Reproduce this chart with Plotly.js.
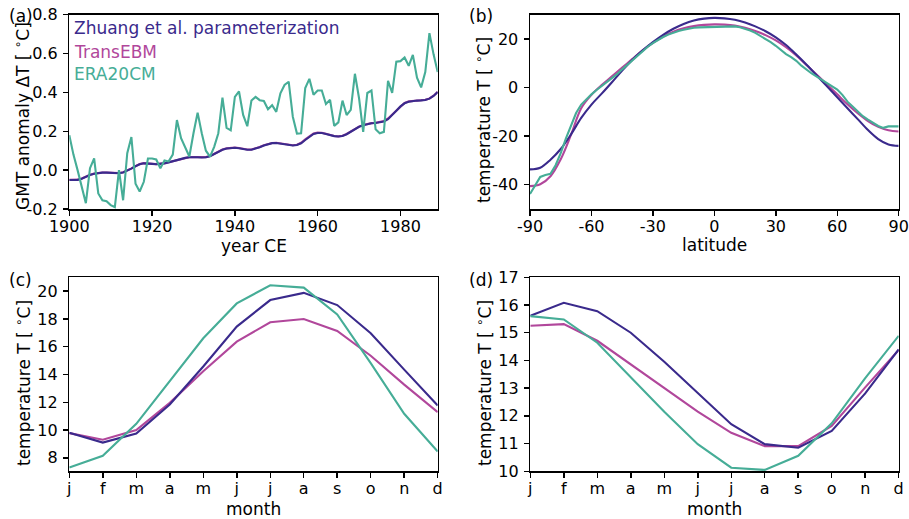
<!DOCTYPE html>
<html>
<head>
<meta charset="utf-8">
<script src="https://cdn.plot.ly/plotly-3.0.1.min.js"></script>
<style>html,body{margin:0;padding:0;background:#fff;}#chart{width:909px;height:519px;}</style>
</head>
<body>
<div id="chart"></div>
<script>
// ---------- data ----------
const seriesNames = ['Zhuang et al. parameterization', 'TransEBM', 'ERA20CM'];
const seriesColors = ['#3a2a8c', '#b1479b', '#46ad97'];

// (a) global mean temperature anomaly, 1900-1989
const years = Array.from({length: 90}, (_, i) => 1900 + i);
const gmtZhuang = [
 -0.051,-0.052,-0.050,-0.044,-0.034,-0.025,-0.019,-0.015,-0.013,-0.013,
 -0.014,-0.016,-0.016,-0.012,-0.004,0.008,0.020,0.030,0.035,0.035,
 0.032,0.030,0.031,0.035,0.040,0.046,0.052,0.058,0.063,0.066,
 0.067,0.066,0.065,0.066,0.072,0.084,0.096,0.105,0.111,0.114,
 0.115,0.113,0.109,0.105,0.105,0.110,0.118,0.127,0.134,0.139,
 0.140,0.137,0.133,0.129,0.127,0.129,0.138,0.155,0.173,0.186,
 0.191,0.191,0.186,0.180,0.175,0.173,0.176,0.185,0.198,0.212,
 0.223,0.231,0.237,0.241,0.243,0.245,0.250,0.262,0.282,0.306,
 0.328,0.344,0.352,0.356,0.358,0.359,0.361,0.368,0.382,0.402];
const gmtTransEBM = [
 -0.050,-0.051,-0.049,-0.043,-0.033,-0.024,-0.018,-0.014,-0.012,-0.012,
 -0.013,-0.015,-0.015,-0.011,-0.003,0.009,0.021,0.031,0.036,0.036,
 0.033,0.031,0.032,0.036,0.041,0.047,0.053,0.059,0.064,0.067,
 0.068,0.067,0.066,0.067,0.073,0.085,0.097,0.106,0.112,0.115,
 0.116,0.114,0.110,0.106,0.106,0.111,0.119,0.128,0.135,0.140,
 0.141,0.138,0.134,0.130,0.128,0.131,0.141,0.158,0.176,0.189,
 0.193,0.192,0.187,0.181,0.176,0.174,0.177,0.186,0.199,0.213,
 0.224,0.232,0.238,0.242,0.244,0.247,0.253,0.266,0.286,0.310,
 0.331,0.346,0.354,0.357,0.359,0.360,0.362,0.369,0.383,0.403];
const gmtERA20CM = [
 0.18,0.08,0.00,-0.09,-0.17,0.01,0.06,-0.12,-0.155,-0.16,
 -0.18,-0.19,0.00,-0.155,0.087,0.17,-0.07,-0.11,-0.06,0.06,
 0.06,0.055,0.01,0.05,0.045,0.08,0.258,0.164,0.12,0.07,
 0.19,0.296,0.19,0.10,0.07,0.12,0.19,0.373,0.218,0.205,
 0.377,0.405,0.284,0.226,0.358,0.377,0.36,0.356,0.313,0.334,
 0.30,0.395,0.438,0.455,0.275,0.188,0.19,0.423,0.47,0.388,
 0.41,0.41,0.34,0.362,0.228,0.246,0.358,0.284,0.31,0.496,
 0.37,0.197,0.397,0.41,0.21,0.19,0.197,0.46,0.398,0.558,
 0.561,0.58,0.537,0.593,0.476,0.426,0.505,0.705,0.596,0.505];

// (b) zonal mean temperature vs latitude
const latSmooth = [-90,-85,-80,-75,-70,-65,-60,-55,-50,-45,-40,-35,-30,-25,-20,-15,-10,-5,0,
                   5,10,15,20,25,30,35,40,45,50,55,60,65,70,75,80,85,90];
const latZhuang = [-33.7,-33.0,-29.7,-25.3,-19.3,-12.5,-7.0,-2.5,2.2,7.0,11.5,15.3,18.7,21.7,24.2,26.2,27.6,28.4,28.7,
                   28.5,27.9,26.8,25.2,23.2,20.7,17.5,13.6,9.4,5.0,0.5,-4.0,-8.5,-13.0,-17.5,-21.2,-23.4,-24.0];
const latTransEBM = [-40.6,-39.8,-36.5,-29.5,-19.5,-8.5,-3.0,1.0,4.6,8.2,11.8,15.3,18.4,21.0,23.0,24.4,25.3,25.8,26.0,
                     25.9,25.5,24.6,23.3,21.6,19.4,16.6,13.2,9.3,5.3,1.3,-2.8,-6.9,-10.6,-13.8,-16.2,-17.6,-18.1];
const latERAgrid = [-90,-87.5,-85,-82.5,-80,-77.5,-75,-72.5,-70,-67.5,-65,-62.5,-60,-57.5,-55,-52.5,-50,-47.5,-45,
                    -42.5,-40,-37.5,-35,-32.5,-30,-27.5,-25,-22.5,-20,-17.5,-15,-12.5,-10,-7.5,-5,-2.5,0,
                    2.5,5,7.5,10,12.5,15,17.5,20,22.5,25,27.5,30,32.5,35,37.5,40,42.5,45,47.5,50,
                    52.5,55,57.5,60,62.5,65,67.5,70,72.5,75,77.5,80,82.5,85,87.5,90];
const latERA20CM = [-43.8,-40.0,-36.8,-36.0,-35.5,-32.0,-27.0,-21.0,-15.5,-10.5,-7.0,-4.8,-2.8,-1.0,0.6,2.3,3.8,5.5,7.5,
                    9.4,11.4,13.3,15.0,16.8,18.3,19.7,20.8,21.8,22.6,23.3,23.8,24.3,24.6,24.8,24.9,25.0,25.0,
                    25.1,25.2,25.3,25.2,24.8,24.2,23.5,22.5,21.3,20.0,18.7,17.2,15.4,13.8,12.5,11.0,9.0,7.2,5.8,4.5,
                    3.2,1.8,0.8,-0.8,-3.0,-5.8,-7.8,-9.8,-11.8,-13.2,-14.5,-15.8,-16.6,-16.0,-16.0,-16.0];

// (c) and (d) seasonal cycles
const monthLabels = ['j','f','m','a','m','j','j','a','s','o','n','d'];
const cZhuang   = [9.81,9.10,9.75,11.84,14.58,17.45,19.36,19.88,19.00,16.97,14.35,11.77];
const cTransEBM = [9.78,9.30,10.00,11.96,14.23,16.37,17.76,18.00,17.14,15.35,13.27,11.29];
const cERA20CM  = [7.30,8.15,10.45,13.50,16.61,19.12,20.43,20.26,18.33,14.82,11.17,8.45];
const dZhuang   = [15.61,16.08,15.78,15.00,13.95,12.81,11.70,10.98,10.85,11.46,12.81,14.40];
const dTransEBM = [15.25,15.31,14.71,13.86,13.00,12.15,11.39,10.91,10.91,11.64,13.03,14.38];
const dERA20CM  = [15.60,15.48,14.64,13.41,12.15,10.98,10.13,10.05,10.56,11.73,13.36,14.89];

// axis titles
const degC = '[ <sup>∘</sup>C]';
const xTitles = ['year CE', 'latitude', 'month', 'month'];
const yTitles = ['GMT anomaly ΔT ' + degC, 'temperature T ' + degC, 'temperature T ' + degC, 'temperature T ' + degC];
const panelLabels = ['(a)', '(b)', '(c)', '(d)'];

// ---------- chart ----------
const monthIdx = monthLabels.map((_, i) => i);
const FONT = 'DejaVu Sans';
const LW = 2.1;

function line(x, y, k, xa, ya, shape) {
  return {x: x, y: y, xaxis: xa, yaxis: ya, type: 'scatter', mode: 'lines',
          name: seriesNames[k], showlegend: false, hoverinfo: 'skip',
          line: {color: seriesColors[k], width: LW, shape: shape || 'linear', smoothing: 1}};
}

const traces = [
  line(years, gmtTransEBM, 1, 'x', 'y'),
  line(years, gmtZhuang, 0, 'x', 'y'),
  line(years, gmtERA20CM, 2, 'x', 'y'),
  line(latSmooth, latTransEBM, 1, 'x2', 'y2', 'spline'),
  line(latSmooth, latZhuang, 0, 'x2', 'y2', 'spline'),
  line(latERAgrid, latERA20CM, 2, 'x2', 'y2'),
  line(monthIdx, cTransEBM, 1, 'x3', 'y3'),
  line(monthIdx, cZhuang, 0, 'x3', 'y3'),
  line(monthIdx, cERA20CM, 2, 'x3', 'y3'),
  line(monthIdx, dTransEBM, 1, 'x4', 'y4'),
  line(monthIdx, dZhuang, 0, 'x4', 'y4'),
  line(monthIdx, dERA20CM, 2, 'x4', 'y4')
];

const W = 909, H = 519;
const px = v => v / W;
const py = v => 1 - v / H;

function axisBase(extra) {
  return Object.assign({
    showgrid: false, zeroline: false, showline: true, mirror: true,
    linecolor: '#000', linewidth: 1.5,
    ticks: 'outside', ticklen: 5, tickwidth: 1.5, tickcolor: '#000',
    tickfont: {family: FONT, size: 16, color: '#000'},
    automargin: false, fixedrange: true
  }, extra);
}
const titleFont = {family: FONT, size: 17, color: '#000'};

function xAx(extra) { return axisBase(Object.assign({ticklabelstandoff: -3}, extra)); }
function yAx(extra) { return axisBase(Object.assign({ticklabelstandoff: 2}, extra)); }

// panel geometry in pixels [left, right, top, bottom]
const boxes = [[69.3, 437.7, 14.7, 209], [530, 898.7, 14.7, 209],
               [69.3, 437.7, 277.3, 471.3], [530.3, 898.7, 277.3, 471.3]];
const xTitleY = [246, 245, 509, 509];
const yTitleX = [22, 483, 23, 484];
const yTitleY = [116, 120, 383, 383];
const labelPos = [[21, 15.5], [481, 15.5], [20, 280], [481, 279.5]];

const layout = {
  width: W, height: H,
  margin: {l: 0, r: 0, t: 0, b: 0},
  paper_bgcolor: '#fff', plot_bgcolor: '#fff',
  showlegend: false,
  xaxis: xAx({domain: [px(boxes[0][0]), px(boxes[0][1])], range: [1900, 1989], anchor: 'y',
    tickvals: [1900, 1920, 1940, 1960, 1980]}),
  yaxis: yAx({domain: [py(boxes[0][3]), py(boxes[0][2])], range: [-0.2, 0.8], anchor: 'x',
    tickvals: [-0.2, 0, 0.2, 0.4, 0.6, 0.8],
    ticktext: ['-0.2', '0.0', '0.2', '0.4', '0.6', '0.8']}),
  xaxis2: xAx({domain: [px(boxes[1][0]), px(boxes[1][1])], range: [-90, 90], anchor: 'y2',
    tickvals: [-90, -60, -30, 0, 30, 60, 90],
    ticktext: ['-90', '-60', '-30', '0', '30', '60', '90']}),
  yaxis2: yAx({domain: [py(boxes[1][3]), py(boxes[1][2])], range: [-50, 30], anchor: 'x2',
    tickvals: [-40, -20, 0, 20], ticktext: ['-40', '-20', '0', '20']}),
  xaxis3: xAx({domain: [px(boxes[2][0]), px(boxes[2][1])], range: [0, 11], anchor: 'y3',
    tickvals: monthIdx, ticktext: monthLabels}),
  yaxis3: yAx({domain: [py(boxes[2][3]), py(boxes[2][2])], range: [7.03, 21.0], anchor: 'x3',
    tickvals: [8, 10, 12, 14, 16, 18, 20]}),
  xaxis4: xAx({domain: [px(boxes[3][0]), px(boxes[3][1])], range: [0, 11], anchor: 'y4',
    tickvals: monthIdx, ticktext: monthLabels}),
  yaxis4: yAx({domain: [py(boxes[3][3]), py(boxes[3][2])], range: [10, 17], anchor: 'x4',
    tickvals: [10, 11, 12, 13, 14, 15, 16, 17]}),
  annotations: []
};

const ann = layout.annotations;
boxes.forEach((b, i) => {
  ann.push({text: xTitles[i], xref: 'paper', yref: 'paper', showarrow: false,
            x: px((b[0] + b[1]) / 2), y: py(xTitleY[i]), xanchor: 'center', yanchor: 'middle', font: titleFont});
  ann.push({text: yTitles[i], xref: 'paper', yref: 'paper', showarrow: false, textangle: -90,
            x: px(yTitleX[i]), y: py(yTitleY[i]), xanchor: 'center', yanchor: 'middle', font: titleFont});
  ann.push({text: panelLabels[i], xref: 'paper', yref: 'paper', showarrow: false,
            x: px(labelPos[i][0]), y: py(labelPos[i][1]), xanchor: 'center', yanchor: 'middle', font: titleFont});
});
seriesNames.forEach((n, k) => {
  ann.push({text: n, xref: 'paper', yref: 'paper', showarrow: false,
            x: px(72), y: py([27.5, 51.5, 74.5][k]), xanchor: 'left', yanchor: 'middle',
            font: {family: FONT, size: 17, color: seriesColors[k]}});
});

Plotly.newPlot('chart', traces, layout, {staticPlot: true, displayModeBar: false});
</script>
</body>
</html>
